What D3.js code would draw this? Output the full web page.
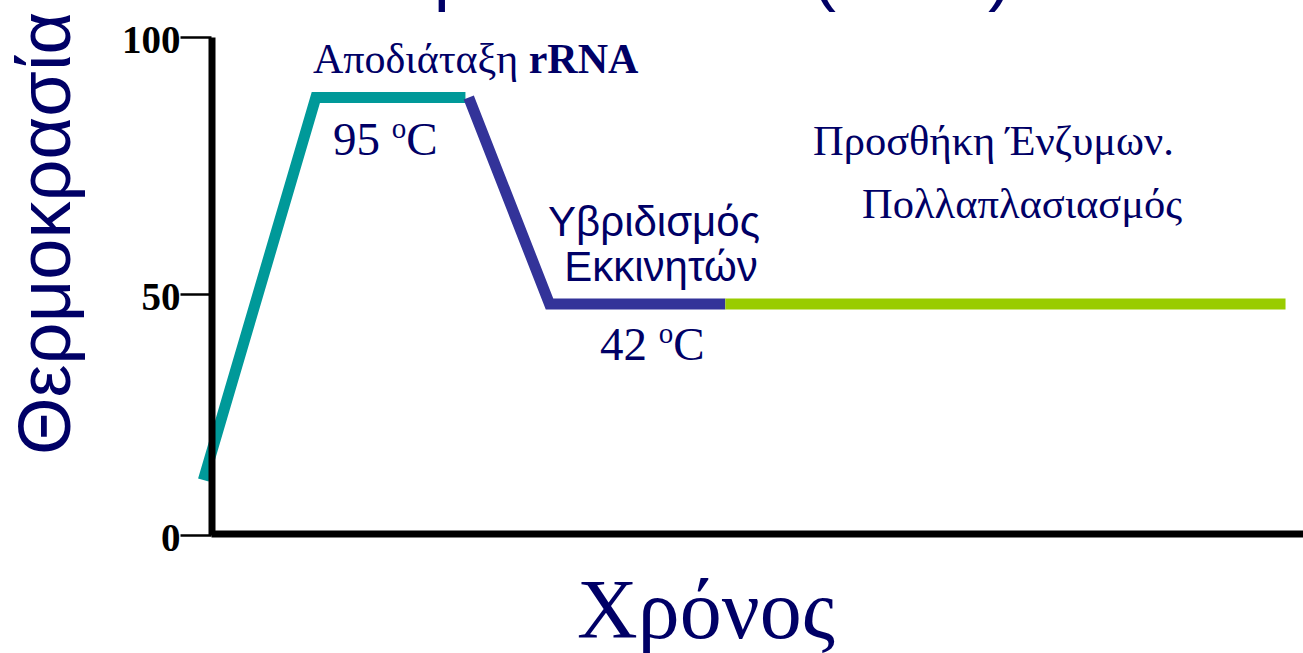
<!DOCTYPE html>
<html>
<head>
<meta charset="utf-8">
<script src="https://cdn.jsdelivr.net/npm/d3@7"></script>
<style>
  html, body { margin: 0; padding: 0; background: #ffffff; }
  svg { display: block; }
</style>
</head>
<body>
<svg id="chart" width="1303" height="653"></svg>
<script>
// Temperature profile of one RT-PCR cycle (schematic, time in arbitrary units)
const tempTicks = [0, 50, 100];
const tempKnots = [0, 42, 50, 95, 100];

// Denaturation: ramp up to 95 °C and hold
const denatTime = [-0.7, 9.6, 23.3];
const denatTemp = [10, 95, 95];

// Primer annealing: cool down to 42 °C and hold
const annealTime = [23.6, 31.0, 47.1];
const annealTemp = [95, 42, 42];

// Enzyme addition / amplification at 42 °C
const extendTime = [47.1, 98.4];
const extendTemp = [42, 42];

const timeDomain = [0, 100];

const NAVY = "#000066";
const svg = d3.select("#chart");

const x = d3.scaleLinear().domain(timeDomain).range([211, 1303]);
// schematic (not to scale) temperature axis
const y = d3.scaleLinear().domain(tempKnots).range([535, 304, 294, 97.5, 37]);

const line = d3.line().x(d => x(d[0])).y(d => y(d[1]));

const segments = [
  { t: denatTime, v: denatTemp, color: "#009999" },
  { t: annealTime, v: annealTemp, color: "#333399" },
  { t: extendTime, v: extendTemp, color: "#99cc00" }
];

svg.append("g").selectAll("path")
  .data(segments)
  .join("path")
  .attr("d", s => line(s.t.map((t, i) => [t, s.v[i]])))
  .attr("fill", "none")
  .attr("stroke", s => s.color)
  .attr("stroke-width", 11)
  .attr("stroke-linejoin", "miter")
  .attr("stroke-linecap", "butt");

// Axes
const yAxis = svg.append("g")
  .attr("transform", "translate(211.5,0)")
  .call(d3.axisLeft(y).tickValues(tempTicks).tickFormat(d3.format("d"))
    .tickSize(31).tickSizeOuter(0).tickPadding(0));
yAxis.select(".domain").attr("stroke", "#000").attr("stroke-width", 7);
yAxis.selectAll(".tick line").attr("stroke", "#000").attr("stroke-width", 2.5);
yAxis.selectAll(".tick text")
  .attr("fill", "#000")
  .attr("dy", "0.4em")
  .style("font-family", "'Liberation Serif', 'Times New Roman', serif")
  .style("font-weight", "bold")
  .style("font-size", "39px");

const xAxis = svg.append("g")
  .attr("transform", "translate(0,533.5)")
  .call(d3.axisBottom(x).tickValues([]).tickSizeOuter(0));
xAxis.select(".domain").attr("stroke", "#000").attr("stroke-width", 7);

// Axis titles
svg.append("text")
  .attr("transform", "translate(70,455) rotate(-90)")
  .attr("fill", NAVY)
  .style("font-family", "'Liberation Sans', Arial, sans-serif")
  .style("font-size", "74px")
  .text("Θερμοκρασία");

svg.append("text")
  .attr("x", 706).attr("y", 638)
  .attr("text-anchor", "middle")
  .attr("fill", NAVY)
  .style("font-family", "'Liberation Serif', 'Times New Roman', serif")
  .style("font-size", "84px")
  .text("Χρόνος");

// Heading above the plot
const title = svg.append("text")
  .attr("y", -3)
  .attr("fill", NAVY)
  .style("font-family", "'Liberation Sans', Arial, sans-serif")
  .style("font-size", "72px");
const head = title.append("tspan").attr("x", 300).text("Η πορεία");
title.append("tspan").attr("x", 812).text("(PCR)");
const rho = title.node().getStartPositionOfChar(4).x;
head.attr("x", 300 + (434 - rho));

// Step annotations
const serif = "'Liberation Serif', 'Times New Roman', serif";
const sans = "'Liberation Sans', Arial, sans-serif";

const denatLabel = svg.append("text")
  .attr("x", 313).attr("y", 73)
  .attr("fill", NAVY)
  .style("font-family", serif).style("font-size", "42px");
denatLabel.append("tspan").text("Αποδιάταξη ");
denatLabel.append("tspan").style("font-weight", "bold").text("rRNA");

function degLabel(xp, yp, value) {
  const t = svg.append("text")
    .attr("x", xp).attr("y", yp)
    .attr("fill", NAVY)
    .style("font-family", serif).style("font-size", "47px");
  t.append("tspan").text(value + " ");
  t.append("tspan").attr("dy", -17).style("font-size", "29px").text("o");
  t.append("tspan").attr("dy", 17).text("C");
}
degLabel(333, 155, denatTemp[1]);
degLabel(600, 360, annealTemp[1]);

svg.append("text")
  .attr("x", 654).attr("y", 236)
  .attr("text-anchor", "middle")
  .attr("fill", NAVY)
  .style("font-family", sans).style("font-size", "42px")
  .text("Υβριδισμός");
svg.append("text")
  .attr("x", 661).attr("y", 281)
  .attr("text-anchor", "middle")
  .attr("fill", NAVY)
  .style("font-family", sans).style("font-size", "42px")
  .text("Εκκινητών");

svg.append("text")
  .attr("x", 813).attr("y", 155)
  .attr("fill", NAVY)
  .style("font-family", serif).style("font-size", "42.5px")
  .text("Προσθήκη Ένζυμων.");
svg.append("text")
  .attr("x", 862).attr("y", 218)
  .attr("fill", NAVY)
  .style("font-family", serif).style("font-size", "42.5px")
  .text("Πολλαπλασιασμός");
</script>
</body>
</html>
